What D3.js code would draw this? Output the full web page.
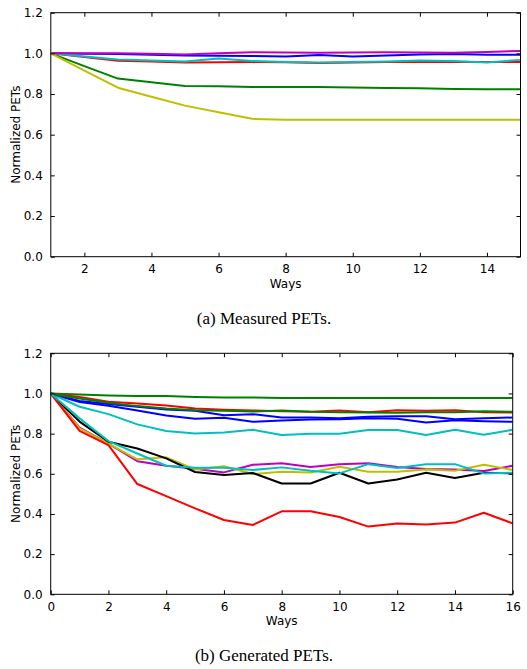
<!DOCTYPE html>
<html><head><meta charset="utf-8">
<script src="https://cdn.jsdelivr.net/npm/d3@7"></script>
<style>body{margin:0;background:#fff}svg{display:block}</style>
</head><body><svg id="c" width="527" height="669"></svg>
<script>
// ---- Data ----
const colors = {b:"#0000ff", g:"#008000", r:"#ff0000", c:"#00bfbf", m:"#bf00bf", y:"#bfbf00", k:"#000000"};

// (a) Measured PETs, x = 1..15
const waysA = [1,2,3,4,5,6,7,8,9,10,11,12,13,14,15];
const measuredB = [1.0,0.998,0.997,0.993,0.989,0.988,0.987,0.985,0.992,0.985,0.990,0.995,0.997,0.993,0.993];
const measuredG = [1.0,0.937,0.876,0.858,0.840,0.838,0.835,0.835,0.835,0.832,0.830,0.828,0.825,0.824,0.823];
const measuredR = [1.0,0.982,0.964,0.960,0.955,0.956,0.957,0.956,0.953,0.955,0.957,0.957,0.957,0.957,0.957];
const measuredC = [1.0,0.985,0.970,0.965,0.960,0.975,0.963,0.958,0.955,0.957,0.960,0.965,0.963,0.955,0.968];
const measuredM = [1.0,1.0,1.0,0.998,0.995,1.0,1.005,1.004,1.003,1.004,1.005,1.004,1.003,1.007,1.012];
const measuredY = [1.0,0.915,0.831,0.787,0.743,0.710,0.678,0.674,0.673,0.673,0.673,0.673,0.673,0.673,0.673];

// (b) Generated PETs, x = 0..16
const waysB = [0,1,2,3,4,5,6,7,8,9,10,11,12,13,14,15,16];
const genB1 = [1.0,0.957,0.939,0.915,0.890,0.874,0.879,0.859,0.866,0.870,0.872,0.877,0.874,0.856,0.867,0.862,0.859];
const genG1 = [1.0,0.995,0.990,0.987,0.987,0.982,0.980,0.980,0.978,0.978,0.978,0.978,0.978,0.978,0.978,0.978,0.978];
const genR1 = [1.0,0.983,0.959,0.950,0.940,0.925,0.919,0.915,0.912,0.909,0.915,0.907,0.917,0.914,0.917,0.907,0.905];
const genC1 = [1.0,0.934,0.897,0.846,0.813,0.801,0.806,0.819,0.793,0.800,0.800,0.818,0.818,0.793,0.819,0.794,0.819];
const genM  = [1.0,0.830,0.750,0.663,0.640,0.625,0.607,0.645,0.652,0.634,0.647,0.653,0.634,0.624,0.622,0.614,0.640];
const genY  = [1.0,0.826,0.750,0.672,0.682,0.622,0.638,0.599,0.610,0.607,0.635,0.610,0.610,0.622,0.615,0.645,0.619];
const genK  = [1.0,0.860,0.760,0.726,0.677,0.609,0.594,0.604,0.552,0.552,0.605,0.552,0.572,0.605,0.579,0.605,0.602];
const genB2 = [1.0,0.963,0.947,0.934,0.920,0.914,0.892,0.897,0.880,0.880,0.876,0.884,0.886,0.887,0.872,0.877,0.880];
const genG2 = [1.0,0.975,0.954,0.937,0.925,0.917,0.914,0.910,0.915,0.909,0.907,0.905,0.904,0.907,0.907,0.912,0.909];
const genR2 = [1.0,0.814,0.743,0.549,0.489,0.428,0.370,0.345,0.413,0.413,0.385,0.337,0.352,0.348,0.357,0.406,0.353];
const genC2 = [1.0,0.876,0.763,0.701,0.640,0.630,0.630,0.619,0.632,0.615,0.602,0.648,0.629,0.648,0.648,0.602,0.605];

const yTicks = [0,0.2,0.4,0.6,0.8,1.0,1.2];
const xTicksA = [2,4,6,8,10,12,14];
const xTicksB = [0,2,4,6,8,10,12,14,16];

const seriesA = [
  {v:measuredB,c:colors.b},{v:measuredG,c:colors.g},{v:measuredR,c:colors.r},
  {v:measuredC,c:colors.c},{v:measuredM,c:colors.m},{v:measuredY,c:colors.y}];
const seriesB = [
  {v:genB1,c:colors.b},{v:genG1,c:colors.g},{v:genR1,c:colors.r},{v:genC1,c:colors.c},
  {v:genM,c:colors.m},{v:genY,c:colors.y},{v:genK,c:colors.k},
  {v:genB2,c:colors.b},{v:genG2,c:colors.g},{v:genR2,c:colors.r},{v:genC2,c:colors.c}];

const svg = d3.select("#c");

function panel(o){
  const x = d3.scaleLinear().domain(o.xdom).range([o.left,o.right]);
  const y = d3.scaleLinear().domain([0,1.2]).range([o.bottom,o.top]);
  const g = svg.append("g");
  const clipId = "clip"+o.id;
  g.append("clipPath").attr("id",clipId).append("rect")
    .attr("x",o.left).attr("y",o.top).attr("width",o.right-o.left).attr("height",o.bottom-o.top);
  const line = d3.line().x((d,i)=>x(o.xs[i])).y(d=>y(d));
  g.append("g").attr("clip-path",`url(#${clipId})`).selectAll("path").data(o.series).join("path")
    .attr("d",d=>line(d.v)).attr("fill","none").attr("stroke",d=>d.c)
    .attr("stroke-width",2).attr("stroke-linejoin","round");
  // frame
  g.append("rect").attr("x",o.left).attr("y",o.top).attr("width",o.right-o.left).attr("height",o.bottom-o.top)
    .attr("fill","none").attr("stroke","#000").attr("stroke-width",1);
  const font = "'DejaVu Sans', sans-serif";
  const fs = 12;
  // axes with inward ticks
  const ax = (sel,axis)=>{sel.call(axis);sel.select(".domain").remove();
    sel.selectAll("text").attr("font-family",font).attr("font-size",fs).attr("fill","#000");
    sel.selectAll("line").attr("stroke","#000");};
  g.append("g").attr("transform",`translate(0,${o.bottom})`)
    .call(s=>ax(s,d3.axisBottom(x).tickValues(o.xticks).tickFormat(d3.format("d")).tickSizeInner(-4).tickPadding(8)));
  g.append("g").attr("transform",`translate(0,${o.top})`)
    .call(s=>ax(s,d3.axisTop(x).tickValues(o.xticks).tickSizeInner(-4).tickFormat("")));
  g.append("g").attr("transform",`translate(${o.left},0)`)
    .call(s=>ax(s,d3.axisLeft(y).tickValues(yTicks).tickFormat(d3.format(".1f")).tickSizeInner(-4).tickPadding(8)));
  g.append("g").attr("transform",`translate(${o.right},0)`)
    .call(s=>ax(s,d3.axisRight(y).tickValues(yTicks).tickSizeInner(-4).tickFormat("")));
  g.append("text").attr("x",(o.left+o.right)/2).attr("y",o.bottom+31).attr("text-anchor","middle")
    .attr("font-family",font).attr("font-size",fs).text("Ways");
  g.append("text").attr("transform",`translate(20,${(o.top+o.bottom)/2}) rotate(-90)`).attr("text-anchor","middle")
    .attr("font-family",font).attr("font-size",fs).text("Normalized PETs");
  g.append("text").attr("x",264).attr("y",o.caption).attr("text-anchor","middle")
    .attr("font-family","'Liberation Serif', serif").attr("font-size",17).text(o.title);
}

panel({id:"a",xdom:[1,15],xs:waysA,xticks:xTicksA,series:seriesA,left:50.8,right:520.5,top:12.7,bottom:256.7,caption:324,title:"(a) Measured PETs."});
panel({id:"b",xdom:[0,16],xs:waysB,xticks:xTicksB,series:seriesB,left:50.7,right:512.7,top:353.3,bottom:594.3,caption:661,title:"(b) Generated PETs."});
</script></body></html>
